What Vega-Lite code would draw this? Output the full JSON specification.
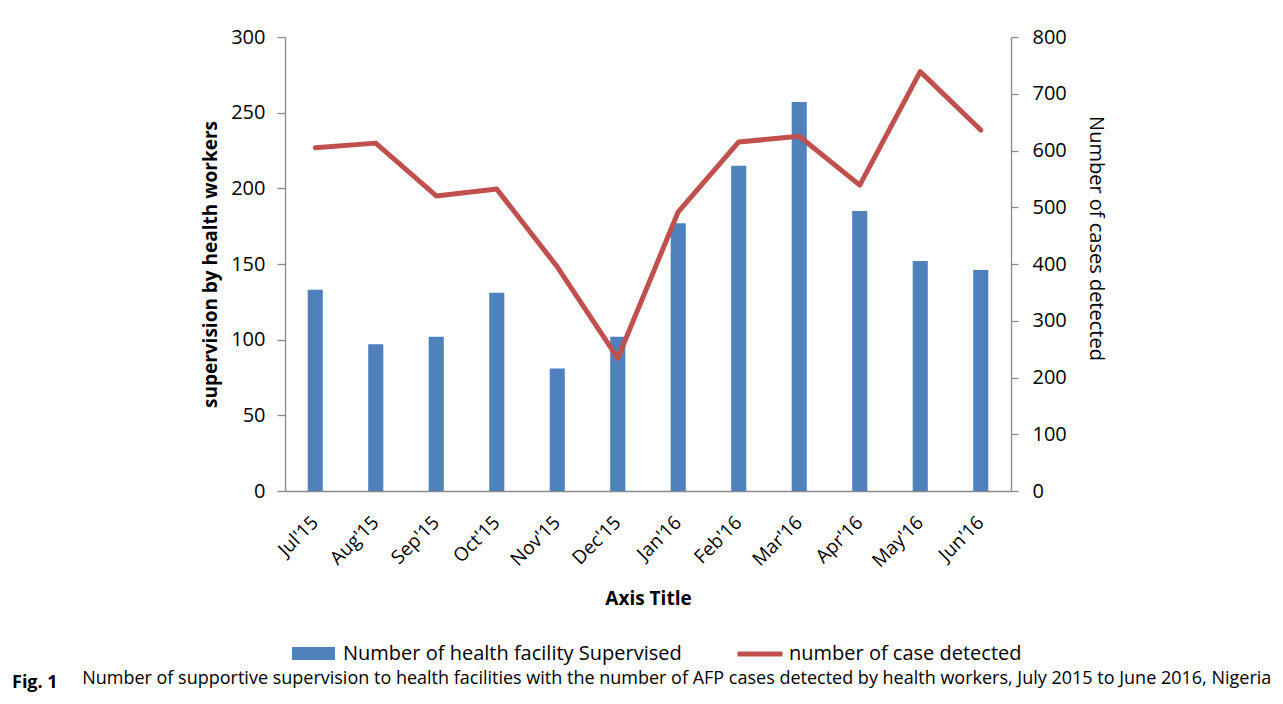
{
  "$schema": "https://vega.github.io/schema/vega-lite/v6.json",
  "width": 726,
  "height": 454,
  "autosize": {"type": "none"},
  "padding": {"left": 285, "top": 37, "right": 272, "bottom": 213},
  "background": "white",
  "config": {
    "view": {"stroke": null},
    "font": "Open Sans",
    "axis": {"grid": false, "labelColor": "black", "titleColor": "black", "domainColor": "#898989", "tickColor": "#898989", "domainWidth": 1.3, "tickWidth": 1.3, "labelFont": "Open Sans", "titleFont": "Open Sans"},
    "legend": {"labelColor": "black", "labelFont": "Open Sans", "labelLimit": 0}
  },
  "title": {
    "text": "Fig. 1",
    "subtitle": "\u200b\u00a0\u00a0\u00a0\u00a0\u00a0\u00a0\u00a0\u00a0\u00a0\u00a0\u00a0\u00a0\u00a0\u00a0\u00a0Number of supportive supervision to health facilities with the number of AFP cases detected by health workers, July 2015 to June 2016, Nigeria",
    "orient": "bottom",
    "anchor": "start",
    "frame": "group",
    "dx": -273,
    "dy": -10,
    "fontSize": 18,
    "fontWeight": "bold",
    "color": "black",
    "subtitleFontSize": 18,
    "subtitleFontWeight": "normal",
    "subtitleColor": "black",
    "subtitleFont": "Open Sans",
    "font": "Open Sans",
    "subtitlePadding": -22,
    "offset": 20
  },
  "data": {
    "values": [
      {"month": "Jul'15", "facilities": 133, "cases": 605},
      {"month": "Aug'15", "facilities": 97, "cases": 613},
      {"month": "Sep'15", "facilities": 102, "cases": 520},
      {"month": "Oct'15", "facilities": 131, "cases": 532},
      {"month": "Nov'15", "facilities": 81, "cases": 395},
      {"month": "Dec'15", "facilities": 102, "cases": 234},
      {"month": "Jan'16", "facilities": 177, "cases": 492},
      {"month": "Feb'16", "facilities": 215, "cases": 615},
      {"month": "Mar'16", "facilities": 257, "cases": 625},
      {"month": "Apr'16", "facilities": 185, "cases": 539},
      {"month": "May'16", "facilities": 152, "cases": 739},
      {"month": "Jun'16", "facilities": 146, "cases": 636}
    ]
  },
  "encoding": {
    "x": {
      "field": "month",
      "type": "nominal",
      "sort": null,
      "scale": {"paddingInner": 0.75, "paddingOuter": 0.375},
      "axis": {
        "title": "Axis Title",
        "titleFontSize": 19,
        "titleFontWeight": "bold",
        "titlePadding": 19,
        "labelAngle": -45,
        "labelAlign": "right",
        "labelBaseline": "middle",
        "labelFontSize": 19,
        "labelPadding": 28,
        "ticks": false
      }
    }
  },
  "layer": [
    {
      "mark": {"type": "bar", "color": "#4F81BD"},
      "encoding": {
        "y": {
          "field": "facilities",
          "type": "quantitative",
          "scale": {"domain": [0, 300]},
          "axis": {
            "orient": "left",
            "values": [0, 50, 100, 150, 200, 250, 300],
            "title": "supervision by health workers",
            "titleFontSize": 19,
            "titleFontWeight": "bold",
            "titlePadding": 10,
            "labelFontSize": 20,
            "labelPadding": 12,
            "tickSize": 8
          }
        },
        "fill": {
          "datum": "Number of health facility Supervised",
          "scale": {"range": ["#4F81BD"]},
          "legend": {
            "orient": "none",
            "legendX": 7,
            "legendY": 595,
            "title": null,
            "symbolType": "M-1,-0.3H1V0.3H-1Z",
            "symbolSize": 1849,
            "symbolStrokeWidth": 0,
            "labelFontSize": 20,
            "labelOffset": 8,
            "labelLimit": 0,
            "padding": 0
          }
        }
      }
    },
    {
      "mark": {"type": "line", "strokeWidth": 5, "strokeCap": "round", "strokeJoin": "round"},
      "encoding": {
        "y": {
          "field": "cases",
          "type": "quantitative",
          "scale": {"domain": [0, 800]},
          "axis": {
            "orient": "right",
            "values": [0, 100, 200, 300, 400, 500, 600, 700, 800],
            "title": "Number of cases detected",
            "titleFontSize": 20,
            "titleFontWeight": "normal",
            "titleAngle": 90,
            "titlePadding": 19,
            "titleY": 201,
            "labelFontSize": 20,
            "labelPadding": 14,
            "tickSize": 7
          }
        },
        "stroke": {
          "datum": "number of case detected",
          "scale": {"range": ["#C0504D"]},
          "legend": {
            "orient": "none",
            "legendX": 450,
            "legendY": 592,
            "title": null,
            "symbolType": "stroke",
            "symbolSize": 2025,
            "symbolStrokeWidth": 5,
            "labelFontSize": 20,
            "labelOffset": 4,
            "labelLimit": 0,
            "padding": 0
          }
        }
      }
    }
  ],
  "resolve": {"scale": {"y": "independent"}}
}
